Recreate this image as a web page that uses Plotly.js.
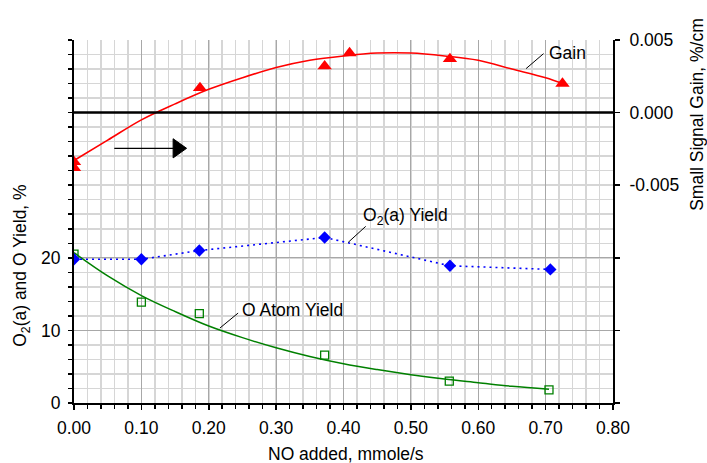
<!DOCTYPE html>
<html>
<head>
<meta charset="utf-8">
<script src="https://cdn.plot.ly/plotly-3.0.1.min.js"></script>
<style>
  html, body { margin: 0; padding: 0; background: #fff; }
  #chart { width: 707px; height: 463px; }
</style>
</head>
<body>
<div id="chart"></div>
<script>
// NO added (mmole/s) and measured values
const gainX = [0.0, 0.0, 0.187, 0.372, 0.409, 0.558, 0.725];
const gainY = [-0.0034, -0.0038, 0.0017, 0.0032, 0.0041, 0.0037, 0.0020];

// smooth trend through the gain data
const gainFitX = [0.0, 0.05, 0.1, 0.15, 0.2, 0.25, 0.3, 0.35, 0.4, 0.45, 0.5, 0.55, 0.6, 0.65, 0.7, 0.725];
const gainFitY = [-0.0033, -0.0019, -0.0005, 0.0006, 0.0016, 0.0024, 0.0031, 0.0036, 0.0039, 0.0041, 0.0041, 0.0039, 0.0036, 0.0030, 0.0024, 0.0020];

const o2aX = [0.0, 0.100, 0.186, 0.372, 0.558, 0.707];
const o2aY = [19.8, 19.8, 21.0, 22.8, 18.9, 18.4];

const oAtomX = [0.0, 0.100, 0.186, 0.372, 0.557, 0.705];
const oAtomY = [20.5, 13.9, 12.3, 6.6, 3.0, 1.8];

// smooth trend through the O atom yield
const oFitX = [0.0, 0.05, 0.1, 0.15, 0.2, 0.25, 0.3, 0.35, 0.4, 0.45, 0.5, 0.55, 0.6, 0.65, 0.705];
const oFitY = [20.7, 17.5, 14.8, 12.6, 10.6, 9.0, 7.6, 6.4, 5.4, 4.6, 3.9, 3.3, 2.8, 2.3, 1.9];

// axis ticks
const xTicks = [0, 0.1, 0.2, 0.3, 0.4, 0.5, 0.6, 0.7, 0.8];
const xTickText = ['0.00', '0.10', '0.20', '0.30', '0.40', '0.50', '0.60', '0.70', '0.80'];
const yTicks = [0, 10, 20];
const yUnlabelledMajor = [30, 40];
const y2Ticks = [-0.005, 0, 0.005];
const y2TickText = ['-0.005', '0.000', '0.005'];
const y2UnlabelledTicks = [-0.02, -0.015, -0.01];

const FONT = 'Liberation Sans, Arial, sans-serif';
const FS = 17.5;

const traces = [
  { x: oFitX, y: oFitY, mode: 'lines', line: { color: '#008000', width: 1.5, shape: 'spline' },
    hoverinfo: 'skip', showlegend: false },
  { x: oAtomX, y: oAtomY, mode: 'markers',
    marker: { symbol: 'square-open', size: 8, color: '#008000', line: { width: 1.3, color: '#008000' } },
    showlegend: false },
  { x: o2aX, y: o2aY, mode: 'lines+markers',
    line: { color: '#0000ff', width: 1.6, dash: '2px,4px' },
    marker: { symbol: 'diamond', size: 9.5, color: '#0000ff' }, showlegend: false },
  { x: gainFitX, y: gainFitY, yaxis: 'y2', mode: 'lines',
    line: { color: '#ff0000', width: 1.6, shape: 'spline' }, hoverinfo: 'skip', showlegend: false },
  { x: gainX, y: gainY, yaxis: 'y2', mode: 'markers',
    marker: { symbol: 'triangle-up', size: 12.5, color: '#ff0000' }, showlegend: false }
];

// darker grid lines at the unlabelled decades of the yield axis
const majorGridShapes = yUnlabelledMajor.map(v => ({
  type: 'line', layer: 'below', xref: 'paper', yref: 'y', x0: 0, x1: 1, y0: v, y1: v,
  line: { color: '#a8a8a8', width: 1 }
}));

const layout = {
  width: 707, height: 463,
  margin: { l: 74, r: 93.5, t: 40, b: 59.7 },
  paper_bgcolor: '#ffffff', plot_bgcolor: '#ffffff',
  font: { family: FONT, size: FS, color: '#000' },
  showlegend: false,
  xaxis: {
    range: [0, 0.8], tickmode: 'array', tickvals: xTicks, ticktext: xTickText,
    showline: true, linecolor: '#000', linewidth: 2, mirror: false,
    ticks: 'outside', ticklen: 5, tickwidth: 1.5, tickcolor: '#000',
    showgrid: true, gridcolor: '#a8a8a8', gridwidth: 1,
    minor: { dtick: 0.02, tick0: 0, ticks: 'outside', ticklen: 4, tickcolor: '#000',
             showgrid: true, gridcolor: '#d6d6d6', gridwidth: 1.5 },
    zeroline: false, tickfont: { size: FS }, ticklabelstandoff: 3
  },
  yaxis: {
    range: [0, 50], tickmode: 'array', tickvals: yTicks,
    showline: true, linecolor: '#000', linewidth: 2,
    ticks: 'outside', ticklen: 4, tickwidth: 1.5, tickcolor: '#000',
    showgrid: true, gridcolor: '#a8a8a8', gridwidth: 1,
    minor: { dtick: 2, tick0: 0, ticks: 'outside', ticklen: 4, tickcolor: '#000',
             showgrid: true, gridcolor: '#d6d6d6', gridwidth: 1.5 },
    zeroline: false, tickfont: { size: FS }, ticklabelstandoff: 4
  },
  yaxis2: {
    overlaying: 'y', side: 'right', range: [-0.02, 0.005],
    tickmode: 'array', tickvals: y2Ticks, ticktext: y2TickText,
    showline: true, linecolor: '#000', linewidth: 2,
    ticks: 'outside', ticklen: 5, tickwidth: 1.5, tickcolor: '#000',
    minor: { tickmode: 'array', tickvals: y2UnlabelledTicks, ticks: 'outside', ticklen: 5,
             tickwidth: 1.5, tickcolor: '#000', showgrid: false },
    showgrid: false, zeroline: false, tickfont: { size: FS }, ticklabelstandoff: 6
  },
  shapes: majorGridShapes.concat([
    // zero-gain reference line
    { type: 'line', xref: 'paper', yref: 'y2', x0: 0, x1: 1, y0: 0, y1: 0,
      line: { color: '#000', width: 2.5 } },
    // arrow pointing to the gain axis: shaft and head
    { type: 'line', xref: 'x', yref: 'y2', x0: 0.0598, x1: 0.150, y0: -0.00246, y1: -0.00246,
      line: { color: '#000', width: 1.3 } },
    { type: 'path', xref: 'x', yref: 'y2',
      path: 'M 0.1471 -0.00180 L 0.1671 -0.00246 L 0.1471 -0.00312 Z',
      fillcolor: '#000', line: { color: '#000', width: 1 } },
    // label leaders
    { type: 'line', xref: 'x', yref: 'y2', x0: 0.671, y0: 0.00303, x1: 0.6969, y1: 0.00406,
      line: { color: '#000', width: 1 } },
    { type: 'line', xref: 'x', yref: 'y', x0: 0.433, y0: 24.33, x1: 0.407, y1: 22.13,
      line: { color: '#000', width: 1 } },
    { type: 'line', xref: 'x', yref: 'y', x0: 0.2436, y0: 12.39, x1: 0.2165, y1: 10.32,
      line: { color: '#000', width: 1 } }
  ]),
  annotations: [
    { text: 'Gain', xref: 'x', yref: 'y2', x: 0.7025, y: 0.00413, xanchor: 'left', yanchor: 'middle',
      showarrow: false, font: { size: FS } },
    { text: 'O<sub>2</sub>(a) Yield', xref: 'x', yref: 'y', x: 0.426, y: 25.7, xanchor: 'left', yanchor: 'middle',
      showarrow: false, font: { size: FS } },
    { text: 'O Atom Yield', xref: 'x', yref: 'y', x: 0.2465, y: 12.84, xanchor: 'left', yanchor: 'middle',
      showarrow: false, font: { size: FS } },
    // axis titles
    { text: 'NO added, mmole/s', xref: 'paper', yref: 'paper', x: 0.505, y: -0.14,
      xanchor: 'center', yanchor: 'middle', showarrow: false, font: { size: FS } },
    { text: 'O<sub>2</sub>(a) and O Yield, %', xref: 'paper', yref: 'paper', x: -0.0964, y: 0.378,
      xanchor: 'center', yanchor: 'middle', textangle: -90, showarrow: false, font: { size: FS } },
    { text: 'Small Signal Gain, %/cm', xref: 'paper', yref: 'paper', x: 1.1566, y: 0.795,
      xanchor: 'center', yanchor: 'middle', textangle: -90, showarrow: false, font: { size: FS } }
  ]
};

Plotly.newPlot('chart', traces, layout, { displayModeBar: false, staticPlot: true });
</script>
</body>
</html>
